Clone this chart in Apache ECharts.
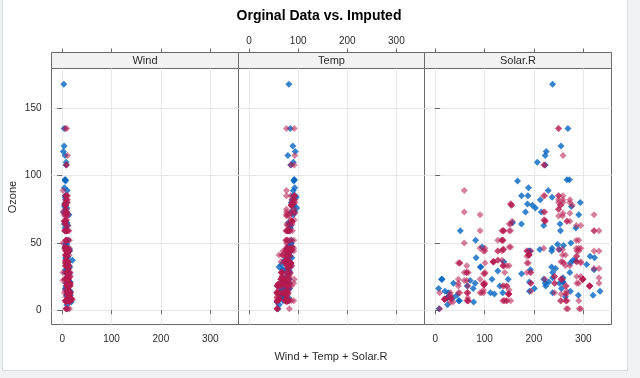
<!DOCTYPE html>
<html><head><meta charset="utf-8">
<script src="https://cdn.jsdelivr.net/npm/echarts@6/dist/echarts.min.js"></script>
<style>html,body{margin:0;padding:0;background:#f0f2f4}#c{width:640px;height:378px}</style>
</head><body><div id="c"></div>
<script>
// ---------------- data ----------------
const titleText = 'Orginal Data vs. Imputed';
const panelNames = ['Wind', 'Temp', 'Solar.R'];
const xTitle = 'Wind + Temp + Solar.R';
const yTitle = 'Ozone';
const xTicks = [0, 100, 200, 300];
const yTicks = [0, 50, 100, 150];
const xRange = [-21.6, 357.3];
const yRange = [-10.7, 179.7];

// observed (complete) cases
const obsOzone = [16,11,14,18,14,34,6,30,11,1,11,4,32, 23,45,115,37, 29, 71,39, 23, 21,37,20,12,13, 135,49,32,
  64,40,77,97,97,85, 10,27, 7,48,35,61,79,63,16, 80,108,20,52,82,50,64,59,39,9,16, 122,89,110, 44,28,65,
  22,59,23,31,44,21,9, 45,168,73,
  76,118,84,85,96,78,73,91,47,32,20,23,21,24,44,21,28,9,13,46,18,13,24,16,13,23,36,7,14,30, 14,18,20];
const obsSolar = [256,290,274,65,334,307,78,322,44,8,320,25,92, 13,252,223,279, 127, 291,323, 148, 191,284,37,120,137, 269,248,236,
  175,314,276,267,272,175, 264,175, 48,260,274,285,187,220,7, 294,223,81,82,213,275,253,254,83,24,77, 255,229,207, 192,273,157,
  71,51,115,244,190,259,36, 212,238,215,
  203,225,237,188,167,197,183,189,95,92,252,220,230,259,236,259,238,24,112,237,224,27,238,201,238,14,139,49,20,193, 191,131,223];
const obsWind = [9.7,9.2,10.9,13.2,11.5,12.0,18.4,11.5,9.7,9.7,16.6,9.7,12.0, 12.0,14.9,5.7,7.4, 9.7, 13.8,11.5, 8.0, 14.9,20.7,9.2,11.5,10.3, 4.1,9.2,9.2,
  4.6,10.9,5.1,6.3,5.7,7.4, 14.3,14.9, 14.3,6.9,10.3,6.3,5.1,11.5,6.9, 8.6,8.0,8.6,12.0,7.4,7.4,7.4,9.2,6.9,13.8,7.4, 4.0,10.3,8.0, 11.5,11.5,9.7,
  10.3,6.3,7.4,10.9,10.3,15.5,14.3, 9.7,3.4,8.0,
  9.7,2.3,6.3,6.3,6.9,5.1,2.8,4.6,7.4,15.5,10.9,10.3,10.9,9.7,14.9,15.5,6.3,10.9,11.5,6.9,13.8,10.3,10.3,8.0,12.6,9.2,10.3,10.3,16.6,6.9, 14.3,8.0,11.5];
const obsTemp = [69,66,68,58,64,66,57,68,62,59,73,61,61, 67,81,79,76, 82, 90,87, 82, 77,72,65,73,76, 84,85,81,
  83,83,88,92,92,89, 73,81, 80,81,82,84,87,85,74, 86,85,82,86,88,86,83,81,81,81,82, 89,90,90, 86,82,80,
  77,79,76,78,78,77,72, 79,81,86,
  97,94,96,94,91,92,93,93,87,84,80,78,75,73,81,76,77,71,71,78,67,76,68,82,64,71,81,69,63,70, 75,76,68];

// incomplete cases: one entry per row, a single value (same in all 5 imputations) or the 5 imputed values
const impOzone = [41,36,12,18,[13,13,13,9,7],28,23,19,8,[20,14,44,28,20],7,
  [13,7,13,9,18],[7,1,12,14,18],[6,1,1,1,10],[52,46,63,40,36],[20,25,36,44,40],[25,20,13,20,25],[44,40,35,28,44],
  [85,73,67,46,108],[12,18,41,7,33],[80,66,82,72,33],[115,82,80,72,85],[85,135,80,75,82],[24,20,31,44,59],[71,59,44,59,31],
  [59,33,47,15,64],[89,73,50,28,22],[71,59,46,23,13],[70,75,85,45,135],[52,37,44,59,52],[44,37,44,52,37],[23,20,35,13,18],
  [44,27,20,15,13],[11,9,6,13,9],[59,45,59,33,52],[44,27,20,46,35],[59,45,33,7,18],[44,52,46,20,7],[45,41,36,70,23],
  [63,36,25,1,46],78,35,66,[85,73,108,67,23],[52,33,45,18,7],[28,33,13,7,22],[23,12,7,36,23],[79,64,59,47,79],[18,7,33,18,7]];
const impSolar = [190,118,149,313,[9,50,94,33,67],[64,67,193,141,101],299,99,19,194,[141,153,67,254,267],
  66,266,[36,9,269,292,26],286,287,242,186,
  220,264,273,259,250,332,322,
  150,59,91,250,135,127,47,
  98,31,138,101,139,291,258,
  295,[155,254,278,155,254],[50,189,261,295,50],[267,223,156,267,223],222,137,64,255,153,145];
const impWind = [7.4,8.0,12.6,[11.5,9.7,13.8,10.9,14.3],[14.3,12.6,16.6,11.5,14.9],[14.9,13.8,11.5,16.6,12.0],[8.6,10.3,9.7,11.5,7.4],
  [13.8,12.0,14.9,11.5,16.6],[20.1,18.4,16.6,14.9,20.7],[8.6,10.3,9.2,7.4,11.5],6.9,
  16.6,14.9,8.0,8.6,9.7,16.1,9.2,
  8.6,14.3,6.9,10.9,9.2,13.8,11.5,
  6.3,1.7,4.6,6.3,8.0,8.0,10.3,
  11.5,14.9,8.0,10.9,8.6,14.9,9.7,
  11.5,6.9,7.4,4.6,8.6,11.5,11.5,12.6,5.7,13.2];
const impTemp = [[67,72,76,61,68],[72,74,65,77,73],[74,69,73,66,76],[62,66,61,64,59],[56,59,58,62,57],66,65,59,61,69,74,
  57,58,57,78,74,67,84,
  85,79,87,93,92,80,79,
  77,76,76,76,75,78,73,
  80,77,83,84,82,91,81,
  82,86,85,87,92,86,79,75,88,77];

// ---------------- build ----------------
const five = v => Array.isArray(v) ? v : [v, v, v, v, v];
const flat = arr => arr.reduce((a, v) => a.concat(five(v)), []);
const imp = { Ozone: flat(impOzone), 'Solar.R': flat(impSolar), Wind: flat(impWind), Temp: flat(impTemp) };
const obs = { Ozone: obsOzone, 'Solar.R': obsSolar, Wind: obsWind, Temp: obsTemp };

const FONT = 'Liberation Sans, Arial, Helvetica, sans-serif';
const lefts = [51.5, 238.5, 424.5], widths = [187, 186, 187];
const TOP = 68.5, H = 256, STRIP = 16;
const BOX = '#6a6a6a', GRIDC = '#e8e8e8', TXT = '#2b2b2b';

const grid = lefts.map((l, i) => ({ left: l, top: TOP, width: widths[i], height: H, show: true,
  borderColor: BOX, borderWidth: 1, backgroundColor: 'rgba(0,0,0,0)' }));

const xAxis = [], yAxis = [], series = [];
panelNames.forEach((name, i) => {
  xAxis.push({ gridIndex: i, type: 'value', position: 'bottom', min: xRange[0], max: xRange[1],
    axisLine: { show: false },
    axisTick: { show: true, inside: false, length: 4, customValues: xTicks, lineStyle: { color: BOX } },
    axisLabel: { show: i !== 1, customValues: xTicks, margin: 10, fontSize: 10, color: TXT, fontFamily: FONT },
    splitLine: { show: true, lineStyle: { color: GRIDC, width: 1 } } });
  xAxis.push({ gridIndex: i, type: 'value', position: 'top', offset: STRIP, min: xRange[0], max: xRange[1],
    axisLine: { show: false },
    axisTick: { show: true, inside: false, length: 4, customValues: xTicks, lineStyle: { color: BOX } },
    axisLabel: { show: i === 1, customValues: xTicks, margin: 6, fontSize: 10, color: TXT, fontFamily: FONT },
    splitLine: { show: false } });
  yAxis.push({ gridIndex: i, type: 'value', position: i === 2 ? 'right' : 'left', min: yRange[0], max: yRange[1],
    axisLine: { show: false },
    axisTick: { show: i !== 1, inside: false, length: 5, customValues: yTicks, lineStyle: { color: BOX } },
    axisLabel: { show: i === 0, customValues: yTicks, margin: 10, fontSize: 10, color: TXT, fontFamily: FONT },
    splitLine: { show: true, lineStyle: { color: GRIDC, width: 1 } } });
  const ox = obs[name], ix = imp[name];
  series.push({ type: 'scatter', xAxisIndex: 2 * i, yAxisIndex: i, symbol: 'diamond', symbolSize: 7,
    itemStyle: { color: '#0565c2' }, silent: true,
    data: obsOzone.map((o, k) => [ox[k], o]) });
  series.push({ type: 'scatter', xAxisIndex: 2 * i, yAxisIndex: i, symbol: 'diamond', symbolSize: 7,
    itemStyle: { color: 'rgba(182,26,81,0.7)' }, silent: true,
    data: imp.Ozone.map((o, k) => [ix[k], o]) });
});

const graphic = [
  { type: 'rect', shape: { x: 2.5, y: -1, width: 625, height: 371.5 }, style: { fill: '#ffffff', stroke: '#d9dde2', lineWidth: 1 }, z: -10 },
  { type: 'text', x: 319, y: 16, style: { text: titleText, font: 'bold 14px ' + FONT, fill: '#000', align: 'center', verticalAlign: 'middle' } },
  { type: 'text', x: 331, y: 357, style: { text: xTitle, font: '11px ' + FONT, fill: TXT, align: 'center', verticalAlign: 'middle' } },
  { type: 'text', x: 13, y: 197, rotation: Math.PI / 2, style: { text: yTitle, font: '11px ' + FONT, fill: TXT, align: 'center', verticalAlign: 'middle' } }
];
panelNames.forEach((name, i) => {
  graphic.push({ type: 'rect', shape: { x: lefts[i], y: TOP - STRIP, width: widths[i], height: STRIP },
    style: { fill: '#f2f2f2', stroke: BOX, lineWidth: 1 } });
  graphic.push({ type: 'text', x: lefts[i] + widths[i] / 2, y: TOP - STRIP / 2 + 0.5,
    style: { text: name, font: '11px ' + FONT, fill: TXT, align: 'center', verticalAlign: 'middle' } });
});

const chart = echarts.init(document.getElementById('c'), null, { renderer: 'canvas' });
chart.setOption({ animation: false, backgroundColor: '#f0f2f4', grid, xAxis, yAxis, series, graphic });
</script></body></html>
